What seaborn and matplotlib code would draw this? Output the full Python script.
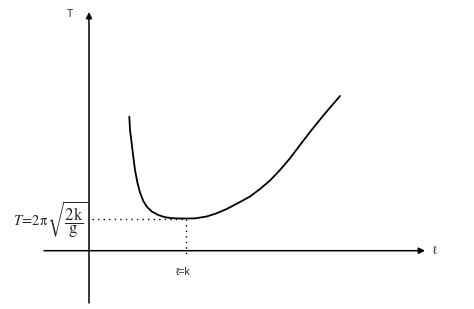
import matplotlib
matplotlib.use("Agg")
import matplotlib.pyplot as plt
import seaborn as sns
import pandas as pd

# Curve readings (ℓ in units of k, T in units of T_min)
ell = [0.4155, 0.4227, 0.4402, 0.4567, 0.4742, 0.5000, 0.5258, 0.5598,
       0.5948, 0.6464, 0.7144, 0.7835, 0.8557, 0.9381, 1.0000, 1.0928,
       1.2134, 1.3093, 1.4196, 1.5567, 1.6598, 1.7629, 1.8660, 1.9691,
       2.0722, 2.1753, 2.2784, 2.4155, 2.5876]
T = [4.1615, 3.7484, 3.3354, 2.9193, 2.5062, 2.1025, 1.8075, 1.5435,
     1.3727, 1.2174, 1.1087, 1.0404, 1.0093, 1.0020, 1.0000, 1.0040,
     1.0621, 1.1553, 1.2950, 1.5124, 1.6832, 1.9161, 2.1801, 2.5062,
     2.8696, 3.2826, 3.6863, 4.1988, 4.8043]
k_pos = 1.0
T_min = 1.0
x_label = "ℓ"
y_label = "T"
k_label = "ℓ=k"
formula_left = r"$T\!=\!2\mathrm{\pi}$"
formula_root = r"$\sqrt{\dfrac{2\mathrm{k}}{\mathrm{g}}}$"

sns.set_style("white")
plt.rcParams["mathtext.fontset"] = "stix"
plt.rcParams["font.family"] = ["Liberation Sans", "DejaVu Sans"]

fig = plt.figure(figsize=(4.74, 3.09), dpi=100)
ax = fig.add_axes([0, 0, 1, 1])
ax.set_xlim(-89 / 97, (474 - 89) / 97)
ax.set_ylim((250.7 - 309) / 32.2, 250.7 / 32.2)
ax.axis("off")

df = pd.DataFrame({"l": ell, "T": T})
sns.lineplot(data=df, x="l", y="T", ax=ax, color="black", lw=1.3, sort=False)

# axes with arrows
ax.annotate("", xy=(0, 7.413), xytext=(0, -1.624),
            arrowprops=dict(arrowstyle="-|>", lw=1.1, color="black",
                            mutation_scale=9, shrinkA=0, shrinkB=0))
ax.annotate("", xy=(3.464, 0), xytext=(-0.464, 0),
            arrowprops=dict(arrowstyle="-|>", lw=1.1, color="black",
                            mutation_scale=9, shrinkA=0, shrinkB=0))

# dotted guides
ax.plot([0.03, k_pos], [T_min, T_min], color="black", lw=1.0, ls=(0, (1, 3)))
ax.plot([k_pos, k_pos], [T_min, -0.11], color="black", lw=1.0, ls=(0, (1, 3)))

ax.text(-0.196, 7.36, y_label, fontsize=7.5, ha="center", va="center")
ax.text(3.567, -0.02, x_label, fontsize=8, ha="center", va="center")
ax.text(0.969, -0.66, k_label, fontsize=7.5, ha="center", va="center")
ax.text(-0.42, 0.80, formula_left, fontsize=10.5, ha="right", va="baseline")
ax.text(-0.43, 0.96, formula_root, fontsize=12, ha="left", va="center")

fig.savefig("out.png", dpi=100)
